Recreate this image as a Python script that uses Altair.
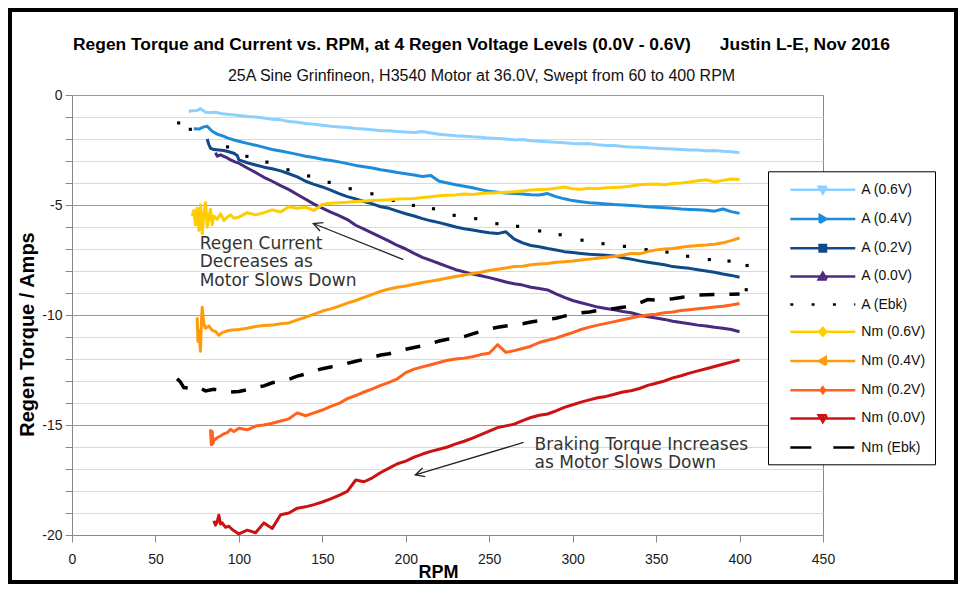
import altair as alt
import pandas as pd

# ---------------- text ----------------
TITLE = ("Regen Torque and Current vs. RPM, at 4 Regen Voltage Levels (0.0V - 0.6V)"
         "\u00a0\u00a0\u00a0\u00a0\u00a0\u00a0Justin L-E, Nov 2016")
SUBTITLE = "25A Sine Grinfineon, H3540 Motor at 36.0V, Swept from 60 to 400 RPM"
X_TITLE = "RPM"
Y_TITLE = "Regen Torque / Amps"

SERIES = ["A (0.6V)", "A (0.4V)", "A (0.2V)", "A (0.0V)", "A (Ebk)",
          "Nm (0.6V)", "Nm (0.4V)", "Nm (0.2V)", "Nm (0.0V)", "Nm (Ebk)"]
COLORS = ["#8DCFFF", "#1C8BDA", "#0E4A8A", "#4A2A7E", "#000000",
          "#FFCC00", "#FF9A0A", "#FF621C", "#CC1111", "#000000"]

X_TICKS = [0, 50, 100, 150, 200, 250, 300, 350, 400, 450]
Y_TICKS = list(range(-20, 1))

# common sampling grid (RPM) for the smooth part of each sweep
RPM_GRID = list(range(100, 405, 5))

# ---------------- series values ----------------
A06_HEAD_RPM = [70, 72, 75, 77, 80, 83, 86, 90, 93, 96]
A06_HEAD = [-0.75, -0.72, -0.70, -0.62, -0.78, -0.80, -0.78, -0.85, -0.88, -0.90]
A06_GRID = [-0.93, -0.98, -1.00, -1.05, -1.10, -1.13, -1.20, -1.24, -1.30, -1.33,
            -1.37, -1.42, -1.45, -1.48, -1.52, -1.55, -1.58, -1.62, -1.63, -1.66,
            -1.68, -1.70, -1.66, -1.73, -1.78, -1.82, -1.85, -1.87, -1.90, -1.92,
            -1.96, -1.98, -2.00, -2.04, -2.02, -2.08, -2.10, -2.12, -2.15, -2.17,
            -2.20, -2.22, -2.21, -2.26, -2.30, -2.30, -2.34, -2.36, -2.37, -2.40,
            -2.42, -2.44, -2.46, -2.48, -2.50, -2.50, -2.53, -2.52, -2.56, -2.58,
            -2.62]

A04_HEAD_RPM = [73, 76, 79, 81, 84, 87, 90, 93, 96]
A04_HEAD = [-1.53, -1.55, -1.45, -1.42, -1.65, -1.78, -1.85, -1.95, -2.02]
A04_GRID = [-2.10, -2.20, -2.28, -2.38, -2.48, -2.55, -2.62, -2.70, -2.78, -2.84,
            -2.92, -2.98, -3.04, -3.12, -3.20, -3.26, -3.32, -3.40, -3.45, -3.52,
            -3.58, -3.64, -3.70, -3.66, -3.92, -4.00, -4.08, -4.15, -4.22, -4.30,
            -4.38, -4.42, -4.46, -4.48, -4.50, -4.53, -4.55, -4.48, -4.62, -4.72,
            -4.80, -4.85, -4.90, -4.92, -4.95, -4.98, -5.00, -5.02, -5.05, -5.08,
            -5.10, -5.12, -5.15, -5.18, -5.20, -5.22, -5.24, -5.28, -5.18, -5.30,
            -5.38]

A02_HEAD_RPM = [81, 82, 83, 85, 88, 91, 94, 97, 99]
A02_HEAD = [-2.00, -2.25, -2.42, -2.48, -2.50, -2.52, -2.58, -2.65, -2.75]
A02_GRID = [-2.95, -3.08, -3.18, -3.28, -3.35, -3.45, -3.58, -3.72, -3.92, -4.06,
            -4.18, -4.32, -4.48, -4.62, -4.72, -4.84, -4.95, -5.08, -5.15, -5.28,
            -5.40, -5.50, -5.62, -5.72, -5.80, -5.90, -6.00, -6.08, -6.14, -6.20,
            -6.26, -6.30, -6.22, -6.55, -6.72, -6.84, -6.90, -6.98, -7.05, -7.12,
            -7.16, -7.20, -7.24, -7.26, -7.28, -7.32, -7.40, -7.46, -7.54, -7.60,
            -7.66, -7.72, -7.80, -7.84, -7.88, -7.94, -8.00, -8.06, -8.14, -8.20,
            -8.28]

A00_HEAD_RPM = [86, 87, 89, 92, 95, 98]
A00_HEAD = [-2.62, -2.78, -2.72, -2.82, -2.95, -3.05]
A00_GRID = [-3.10, -3.32, -3.52, -3.74, -3.92, -4.12, -4.30, -4.52, -4.74, -4.96,
            -5.14, -5.32, -5.48, -5.66, -5.92, -6.10, -6.28, -6.46, -6.64, -6.84,
            -7.00, -7.20, -7.38, -7.52, -7.66, -7.80, -7.94, -8.04, -8.14, -8.22,
            -8.30, -8.40, -8.50, -8.58, -8.64, -8.74, -8.80, -8.86, -9.04, -9.20,
            -9.34, -9.44, -9.54, -9.64, -9.70, -9.76, -9.84, -9.90, -10.00, -10.08,
            -10.14, -10.20, -10.28, -10.34, -10.40, -10.46, -10.50, -10.56, -10.60, -10.66,
            -10.76]

AEBK_RPM = [63.9, 70.9, 93.2, 104.8, 116.8, 129.4, 141.8, 154.1, 166.7, 179.7,
            192.5, 204.6, 216.6, 229.0, 241.9, 254.6, 267.0, 280.2, 292.5, 305.6,
            318.2, 331.0, 344.0, 356.5, 368.9, 381.9, 393.7, 404.5, 404.0]
AEBK_VAL = [-1.27, -1.56, -2.36, -2.79, -3.05, -3.40, -3.68, -3.97, -4.26, -4.49,
            -4.79, -5.02, -5.17, -5.47, -5.62, -5.85, -5.97, -6.18, -6.35, -6.60,
            -6.76, -6.88, -7.03, -7.14, -7.33, -7.48, -7.55, -7.75, -8.85]

N06_HEAD_RPM = [72, 73, 74, 75, 76, 77, 78, 79, 80, 81, 82, 83, 84, 85, 87, 89, 91, 93, 95, 97]
N06_HEAD = [-5.50, -5.25, -5.90, -5.15, -6.15, -5.00, -6.30, -5.40, -4.90, -6.00,
            -5.55, -5.20, -5.90, -5.50, -5.65, -5.40, -5.70, -5.55, -5.45, -5.60]
N06_GRID = [-5.55, -5.35, -5.45, -5.35, -5.22, -5.32, -5.08, -5.15, -5.10, -5.25,
            -4.98, -4.92, -4.90, -4.88, -4.84, -4.82, -4.80, -4.78, -4.76, -4.73,
            -4.72, -4.70, -4.66, -4.63, -4.58, -4.56, -4.54, -4.50, -4.52, -4.48,
            -4.46, -4.44, -4.42, -4.40, -4.36, -4.32, -4.30, -4.28, -4.24, -4.18,
            -4.26, -4.28, -4.24, -4.26, -4.22, -4.20, -4.18, -4.14, -4.08, -4.06,
            -4.05, -4.08, -4.02, -4.00, -3.95, -3.90, -3.85, -3.95, -3.88, -3.82,
            -3.84]

N04_HEAD_RPM = [75, 75.5, 76, 76.5, 77, 77.5, 78, 79, 80, 82, 84, 86, 88, 90, 93, 96]
N04_HEAD = [-10.10, -11.20, -10.70, -11.15, -11.65, -10.40, -9.65, -10.40, -10.60, -10.50,
            -10.70, -10.75, -10.92, -10.80, -10.72, -10.68]
N04_GRID = [-10.66, -10.60, -10.52, -10.48, -10.46, -10.40, -10.36, -10.22, -10.10, -9.96,
            -9.82, -9.72, -9.60, -9.46, -9.34, -9.20, -9.06, -8.92, -8.82, -8.74,
            -8.68, -8.60, -8.52, -8.46, -8.40, -8.32, -8.25, -8.18, -8.12, -8.06,
            -7.98, -7.92, -7.86, -7.80, -7.78, -7.72, -7.68, -7.66, -7.60, -7.58,
            -7.55, -7.50, -7.46, -7.42, -7.38, -7.34, -7.28, -7.20, -7.22, -7.12,
            -7.04, -7.00, -6.98, -6.92, -6.88, -6.84, -6.82, -6.78, -6.72, -6.62,
            -6.50]

N02_HEAD_RPM = [83, 83.5, 84, 84.5, 85, 87, 89, 91, 93, 95, 97]
N02_HEAD = [-15.20, -15.90, -15.30, -15.85, -15.70, -15.58, -15.50, -15.40, -15.35, -15.20, -15.30]
N02_GRID = [-15.15, -15.22, -15.05, -15.00, -14.92, -14.82, -14.72, -14.45, -14.58, -14.45,
            -14.32, -14.15, -14.02, -13.80, -13.66, -13.50, -13.36, -13.20, -13.06, -12.90,
            -12.62, -12.46, -12.36, -12.26, -12.16, -12.06, -12.00, -11.96, -11.90, -11.80,
            -11.74, -11.35, -11.70, -11.62, -11.52, -11.42, -11.25, -11.15, -11.05, -10.92,
            -10.80, -10.66, -10.55, -10.46, -10.38, -10.30, -10.22, -10.14, -10.06, -10.00,
            -9.96, -9.90, -9.86, -9.80, -9.76, -9.72, -9.68, -9.64, -9.60, -9.55,
            -9.48]

N00_HEAD_RPM = [85, 86, 87, 88, 89, 90, 92, 94, 96, 98]
N00_HEAD = [-19.35, -19.55, -19.40, -19.10, -19.50, -19.45, -19.65, -19.60, -19.75, -19.85]
N00_GRID = [-19.95, -19.78, -19.90, -19.45, -19.70, -19.08, -19.00, -18.78, -18.72, -18.62,
            -18.50, -18.36, -18.20, -18.02, -17.50, -17.58, -17.40, -17.16, -16.96, -16.76,
            -16.64, -16.46, -16.32, -16.20, -16.10, -16.00, -15.86, -15.74, -15.60, -15.44,
            -15.28, -15.12, -15.04, -14.96, -14.80, -14.66, -14.56, -14.50, -14.36, -14.20,
            -14.08, -13.96, -13.86, -13.76, -13.70, -13.60, -13.50, -13.44, -13.34, -13.20,
            -13.10, -13.00, -12.86, -12.76, -12.64, -12.54, -12.44, -12.34, -12.24, -12.14,
            -12.04]

NEBK_HEAD_RPM = [63, 65, 67, 70, 75, 80, 85, 90, 95]
NEBK_HEAD = [-12.90, -13.05, -13.30, -13.32, -13.25, -13.45, -13.38, -13.42, -13.50]
NEBK_GRID = [-13.48, -13.40, -13.30, -13.22, -13.08, -13.00, -12.92, -12.78, -12.68, -12.55,
             -12.44, -12.36, -12.30, -12.20, -12.10, -12.02, -11.92, -11.82, -11.76, -11.66,
             -11.56, -11.48, -11.40, -11.30, -11.18, -11.10, -11.06, -10.98, -10.86, -10.74,
             -10.64, -10.56, -10.50, -10.45, -10.40, -10.32, -10.26, -10.20, -10.15, -10.05,
             -9.96, -9.90, -9.86, -9.80, -9.74, -9.70, -9.65, -9.60, -9.46, -9.30,
             -9.32, -9.30, -9.26, -9.20, -9.14, -9.10, -9.08, -9.07, -9.07, -9.06,
             -9.05]

# ---------------- annotations ----------------
ANNOT_TEXT = ["Regen Current", "Decreases as", "Motor Slows Down",
              "Braking Torque Increases", "as Motor Slows Down"]
ANNOT_X = [76.5, 76.5, 76.5, 277.2, 277.2]
ANNOT_Y = [-6.99, -7.83, -8.66, -16.12, -16.95]

ARROW_X = [198.5, 270.6]
ARROW_Y = [-7.48, -15.79]
ARROW_X2 = [144.6, 205.7]
ARROW_Y2 = [-5.84, -17.27]
ARROW_ANGLE = [202, 163]

# ---------------- legend symbol paths ----------------
LINE = "M-4.06,0L4.06,0"
TRI_DOWN = LINE + "M-0.5,-0.38L0.5,-0.38L0,0.45ZM0,-0.38L0,0.3"
TRI_RIGHT = LINE + "M-0.38,-0.5L-0.38,0.5L0.45,0ZM-0.38,-0.22L0.1,-0.1M-0.38,0.22L0.1,0.1"
SQUARE = LINE + "M-0.4,-0.4L0.4,-0.4L0.4,0.4L-0.4,0.4ZM-0.4,-0.2L0.4,-0.2M-0.4,0.2L0.4,0.2"
TRI_UP = LINE + "M-0.5,0.38L0.5,0.38L0,-0.45ZM0,0.38L0,-0.3"
DIAMOND = LINE + "M0,-0.48L0.42,0L0,0.48L-0.42,0ZM0,-0.45L0,0.45"
TRI_LEFT = LINE + "M0.38,-0.5L0.38,0.5L-0.45,0ZM0.38,-0.22L-0.1,-0.1M0.38,0.22L-0.1,0.1"
DIAMOND_S = LINE + "M0,-0.36L0.26,0L0,0.36L-0.26,0ZM0,-0.3L0,0.3"
SHAPES = [TRI_DOWN, TRI_RIGHT, SQUARE, TRI_UP, LINE,
          DIAMOND, TRI_LEFT, DIAMOND_S, TRI_DOWN, LINE]
DASHES = [[1, 0], [1, 0], [1, 0], [1, 0], [3, 18.3],
          [1, 0], [1, 0], [1, 0], [1, 0], [21, 22]]
ARROW_HEAD = "M-1,-0.5L0,0L-1,0.5"

# ---------------- build table ----------------
rows = []


def add_series(name, rpms, vals):
    for r, v in zip(rpms, vals):
        rows.append({"series": name, "rpm": r, "val": v})


add_series(SERIES[0], A06_HEAD_RPM + RPM_GRID, A06_HEAD + A06_GRID)
add_series(SERIES[1], A04_HEAD_RPM + RPM_GRID, A04_HEAD + A04_GRID)
add_series(SERIES[2], A02_HEAD_RPM + RPM_GRID, A02_HEAD + A02_GRID)
add_series(SERIES[3], A00_HEAD_RPM + RPM_GRID, A00_HEAD + A00_GRID)
add_series(SERIES[4], AEBK_RPM, AEBK_VAL)
add_series(SERIES[5], N06_HEAD_RPM + RPM_GRID, N06_HEAD + N06_GRID)
add_series(SERIES[6], N04_HEAD_RPM + RPM_GRID, N04_HEAD + N04_GRID)
add_series(SERIES[7], N02_HEAD_RPM + RPM_GRID, N02_HEAD + N02_GRID)
add_series(SERIES[8], N00_HEAD_RPM + RPM_GRID, N00_HEAD + N00_GRID)
add_series(SERIES[9], NEBK_HEAD_RPM + RPM_GRID, NEBK_HEAD + NEBK_GRID)
df = pd.DataFrame(rows)

annot = pd.DataFrame({"rpm": ANNOT_X, "val": ANNOT_Y, "txt": ANNOT_TEXT})
arrows = pd.DataFrame({"rpm": ARROW_X, "val": ARROW_Y, "rpm2": ARROW_X2,
                       "val2": ARROW_Y2, "ang": ARROW_ANGLE})

# ---------------- scales / axes ----------------
BASE_FONT = "Liberation Sans, Arial, sans-serif"
NARROW = "Liberation Sans Narrow, Arial Narrow, sans-serif"

XS = alt.Scale(domain=[0, 450], nice=False, zero=False)
YS = alt.Scale(domain=[-20, 0], nice=False, zero=False)

x_axis = alt.Axis(values=X_TICKS, grid=False, tickSize=7, tickColor="#888888",
                  domainColor="#888888", labelFont=BASE_FONT, labelFontSize=14,
                  labelColor="#1a1a1a", labelPadding=10, labelFlush=False,
                  labelExpr="'' + datum.value",
                  titleFont=BASE_FONT, titleFontSize=18, titleFontWeight="bold",
                  titleColor="#000000", titleX=366, titleY=42,
                  titleBaseline="alphabetic", titleAlign="center")
y_axis = alt.Axis(values=Y_TICKS, grid=True,
                  gridColor={"condition": {"test": "datum.value % 5 === 0", "value": "#9a9a9a"},
                             "value": "#dadada"},
                  gridWidth=1, tickSize=7, tickColor="#888888", domainColor="#888888",
                  labelExpr="datum.value % 5 === 0 ? '' + datum.value : ''",
                  labelFont=BASE_FONT, labelFontSize=14, labelColor="#1a1a1a",
                  labelPadding=3, labelOverlap=False,
                  titleFont=BASE_FONT, titleFontSize=20, titleFontWeight="bold",
                  titleColor="#000000", titleX=-38.7, titleY=239, titleAngle=270,
                  titleBaseline="alphabetic", titleAlign="center")


def X(f):
    return alt.X(f"{f}:Q", scale=XS, axis=x_axis, title=X_TITLE)


def Y(f):
    return alt.Y(f"{f}:Q", scale=YS, axis=y_axis, title=Y_TITLE)


# ---------------- layers ----------------
layers = []
for name, color in zip(SERIES, COLORS):
    base = alt.Chart().transform_filter(alt.datum.series == name)
    if name == "A (Ebk)":
        layers.append(base.mark_square(size=10, color=color, opacity=1)
                      .encode(x=X("rpm"), y=Y("val")))
    elif name == "Nm (Ebk)":
        layers.append(base.mark_line(color=color, strokeWidth=3.5, strokeDash=[15, 15])
                      .encode(x=X("rpm"), y=Y("val")))
    else:
        layers.append(base.mark_line(color=color, strokeWidth=3, strokeJoin="round")
                      .encode(x=X("rpm"), y=Y("val")))

leg = alt.Legend(title=None, orient="none", legendX=696, legendY=76.3,
                 direction="vertical", columns=1,
                 padding=9, rowPadding=10.2, symbolSize=256, symbolStrokeWidth=2.5,
                 symbolOffset=36.3, labelOffset=29, symbolOpacity=1,
                 labelFont=BASE_FONT, labelFontSize=14, labelColor="#111111",
                 labelLimit=200, strokeColor="#000000", fillColor="#ffffff",
                 cornerRadius=0)

legend_layer = alt.Chart().transform_filter(
    alt.datum.series == "__legend_only__"
).mark_point(filled=False, opacity=1, strokeWidth=2.5).encode(
    x=X("rpm"), y=Y("val"),
    color=alt.Color("series:N", scale=alt.Scale(domain=SERIES, range=COLORS), legend=leg),
    shape=alt.Shape("series:N", scale=alt.Scale(domain=SERIES, range=SHAPES), legend=leg),
    strokeDash=alt.StrokeDash("series:N", scale=alt.Scale(domain=SERIES, range=DASHES), legend=leg),
)

text_layer = alt.Chart(annot).mark_text(
    align="left", baseline="alphabetic", font="DejaVu Sans", fontSize=17, color="#333333"
).encode(x=X("rpm"), y=Y("val"), text="txt:N")

arrow_lines = alt.Chart(arrows).mark_rule(color="#222222", strokeWidth=1.3).encode(
    x=X("rpm"), y=Y("val"), x2="rpm2:Q", y2="val2:Q")

arrow_heads = alt.Chart(arrows).mark_point(
    shape=ARROW_HEAD, size=324, filled=False, color="#222222", strokeWidth=1.3, opacity=1
).encode(x=X("rpm2"), y=Y("val2"), angle=alt.Angle("ang:Q", scale=None))

frame = alt.Chart(alt.Data(values=[{"k": 0}])).mark_rect(
    filled=False, stroke="#000000", strokeWidth=4
).encode(x=alt.value(-62), x2=alt.value(884), y=alt.value(-85), y2=alt.value(487))

chart = alt.layer(
    *layers, legend_layer, text_layer, arrow_lines, arrow_heads, frame, data=df
).properties(
    width=751, height=440,
    padding={"left": 64, "top": 87, "right": 135, "bottom": 49},
    autosize=alt.AutoSizeParams(type="none"),
    background="white",
    title=alt.TitleParams(text=TITLE, subtitle=SUBTITLE, anchor="middle", frame="group",
                          font=NARROW, fontSize=17.4, fontWeight="bold", color="#000000",
                          subtitleFont=NARROW, subtitleFontSize=16, subtitleColor="#111111",
                          subtitlePadding=15, offset=-76, dx=34),
).configure_view(stroke="#888888", strokeWidth=1)

chart.save("out.html", embed_options={"renderer": "svg", "actions": False})
